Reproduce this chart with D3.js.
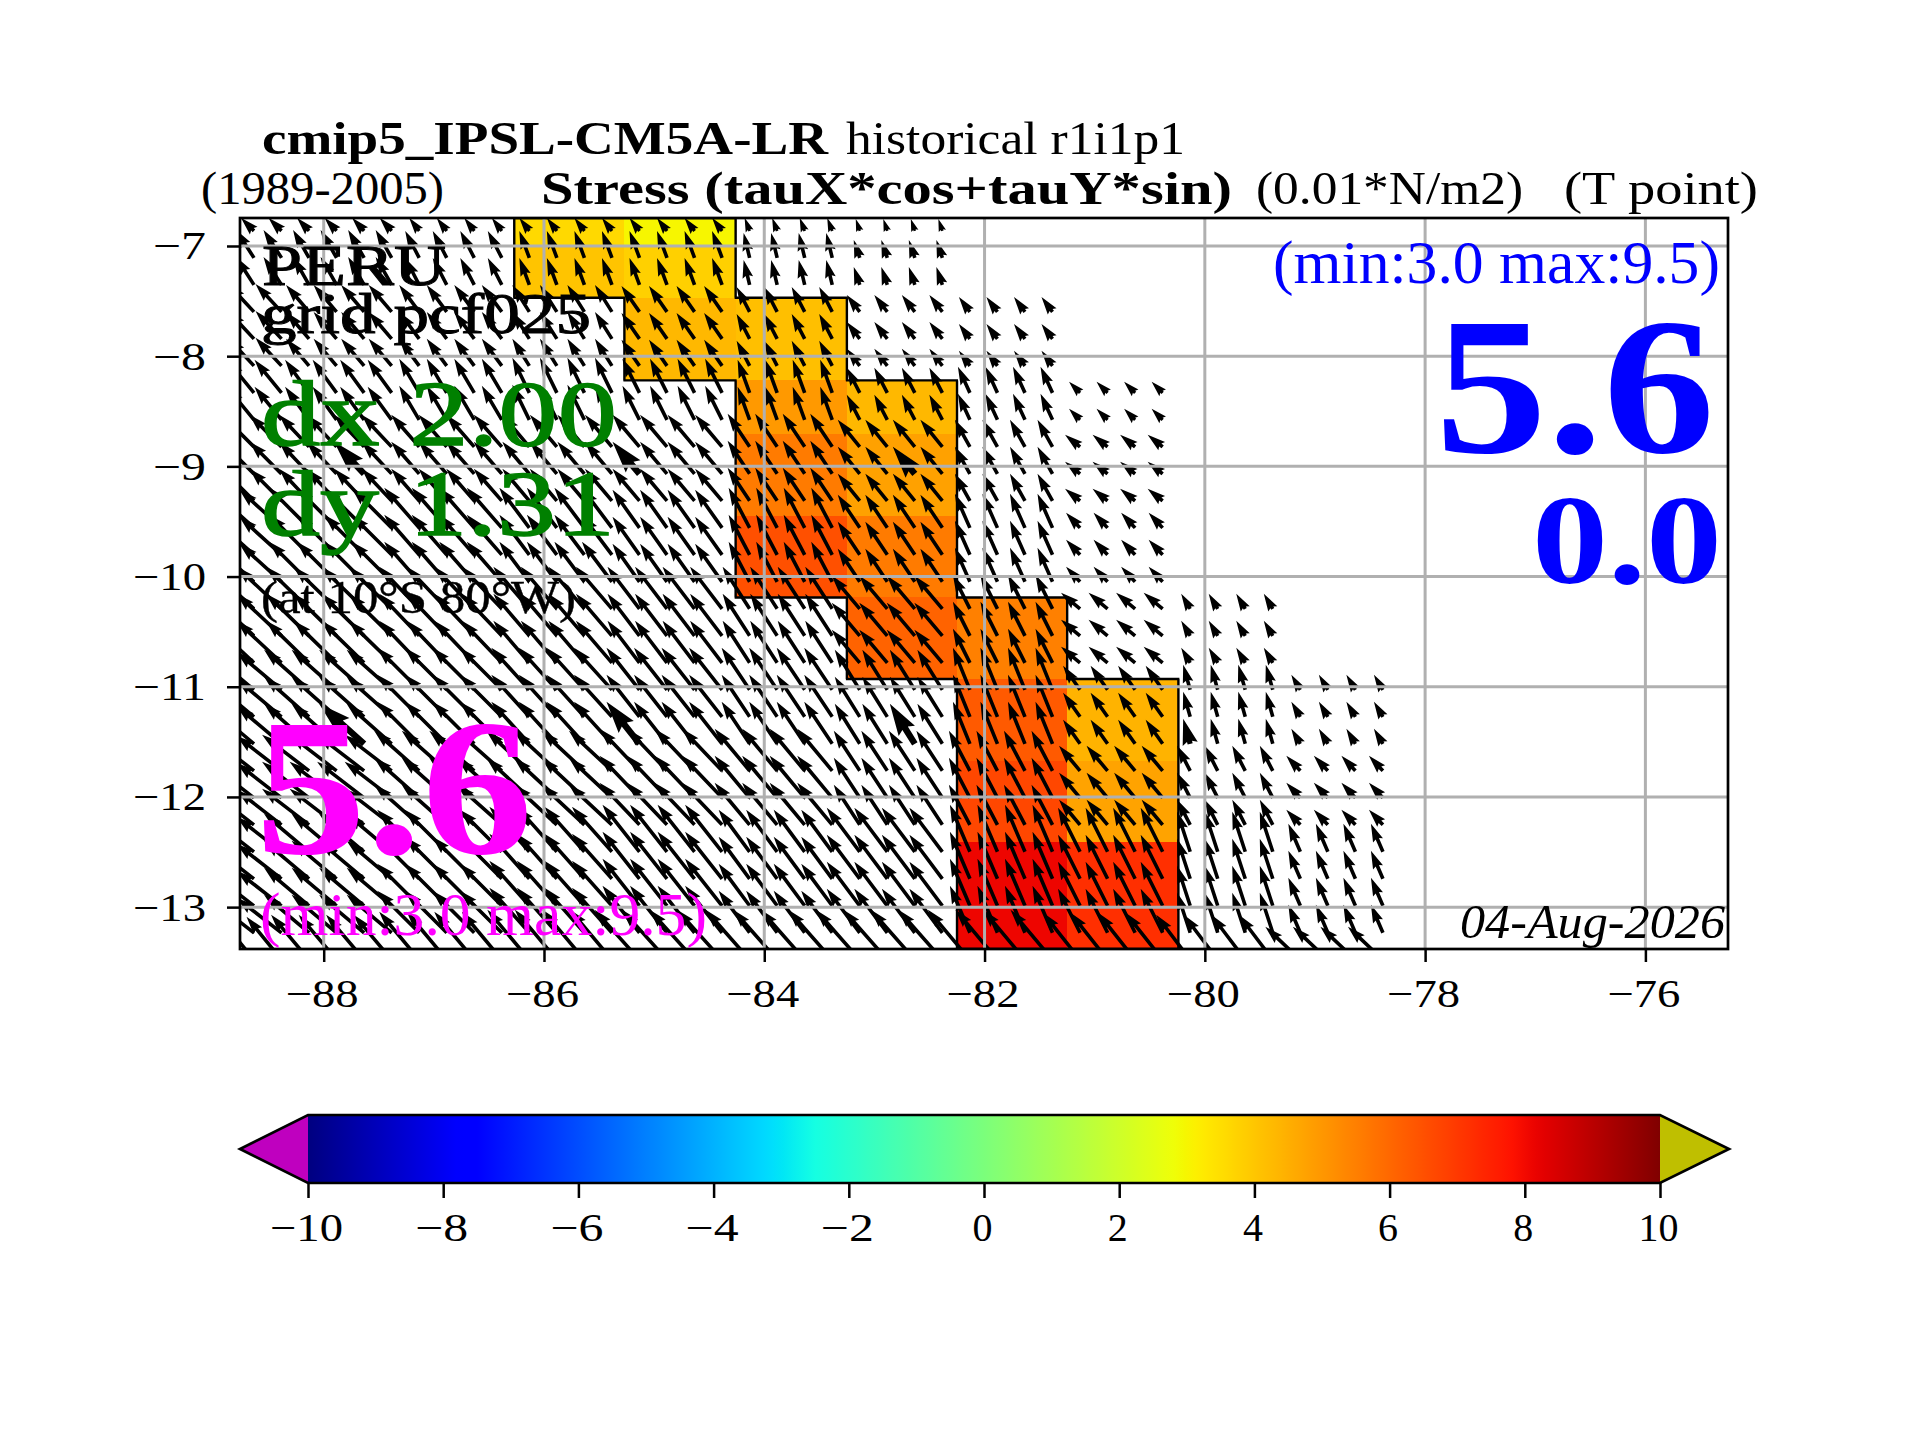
<!DOCTYPE html>
<html>
<head>
<meta charset="utf-8">
<script src="https://cdn.jsdelivr.net/npm/d3@7/dist/d3.min.js"></script>
<style>html,body{margin:0;padding:0;background:#fff}svg{display:block}text{font-family:"Liberation Serif",serif}</style>
</head>
<body>
<svg id="chart" width="1920" height="1440"></svg>
<script>
// ---------- data ----------
const lonTicks = [-88,-86,-84,-82,-80,-78,-76];
const latTicks = [-7,-8,-9,-10,-11,-12,-13];
const cbarTicks = [-10,-8,-6,-4,-2,0,2,4,6,8,10];
// column edges in longitude, east to west
const colEast = [-78.25,-79.25,-80.24,-81.25,-82.25,-83.25,-84.26,-85.27,-86.27,-87.27,-88.27,-89.27];
// band edges in latitude, north to south
const bandEdges = [-6.746,-7.0,-7.47,-8.22,-8.71,-9.45,-10.19,-10.93,-11.67,-12.41,-13.38];
// stress magnitude per band (rows) and column (east to west); null = masked
const n = null;
const stress = [
 [n,n,n,n,n,n,3.0,3.6,n,n,n],
 [n,n,n,n,n,n,3.8,4.05,n,n,n],
 [n,n,n,n,n,4.15,4.3,n,n,n,n],
 [n,n,n,n,4.3,4.95,n,n,n,n,n],
 [n,n,n,n,4.8,5.6,n,n,n,n,n],
 [n,n,n,n,5.6,6.5,n,n,n,n,n],
 [n,n,n,5.5,6.1,n,n,n,n,n,n],
 [n,n,4.4,6.3,n,n,n,n,n,n,n],
 [n,n,4.75,6.7,n,n,n,n,n,n,n],
 [n,n,7.2,8.1,n,n,n,n,n,n,n]
];
// arrow row indices belonging to each band (the last group lies under the frame)
const arrowRows = [[26],[25,24],[23,22,21],[20,19],[18,17,16],[15,14,13],[12,11,10],[9,8,7],[6,5,4],[3,2,1,0],[-1]];
// vector components (0.001 N/m2) per band and column
const tauU = [
 [n,n,n,n,-4,-5,-10,-10,-10,-12,-13],
 [n,n,n,n,-6,-6,-10,-10,-14,-16,-18],
 [n,n,n,-11,-13,-13,-18,-17,-20,-23,-26],
 [n,n,-11,-12,-13,-12,-17,-17,-20,-24,-27],
 [n,n,-15,-15,-22,-22,-27,-27,-28,-30,-32],
 [n,n,-14,-15,-22,-21,-27,-30,-35,-40,-42],
 [n,-9,-19,-17,-28,-27,-32,-36,-40,-43,-45],
 [-9,-7,-17,-17,-25,-28,-33,-38,-42,-45,-45],
 [-14,-13,-21,-21,-26,-35,-40,-43,-45,-47,-45],
 [-12,-13,-22,-20,-33,-31,-37,-40,-42,-45,-45],
 [-35,-34,-37,-42,-44,-44,-45,-42,-40,-38,-35]
];
const tauV = [
 [n,n,n,n,12,13,13,13,13,13,13],
 [n,n,n,n,18,25,27,27,27,28,28],
 [n,n,n,15,17,25,26,27,27,27,28],
 [n,n,11,26,25,33,34,35,34,33,33],
 [n,n,12,27,27,33,32,32,32,32,32],
 [n,n,15,34,33,40,38,40,40,40,38],
 [n,15,16,34,33,42,42,42,42,42,42],
 [15,25,24,42,40,42,42,42,42,40,38],
 [15,25,25,40,40,42,42,40,40,36,35],
 [28,40,44,47,44,42,47,45,42,38,35],
 [33,45,47,50,50,50,50,50,48,45,43]
];
// grid columns and rows where the heavier arrows appear
const heavyCols = [7,17,27,37];
const heavyRows = [7,17];

// ---------- scales ----------
const F = {l:240,r:1728,t:218,b:949};
const x = d3.scaleLinear().domain([-88.76,-75.25]).range([F.l,F.r]);
const y = d3.scaleLinear().domain([-6.746,-13.38]).range([F.t,F.b]);
const quiver = d3.scaleLinear().domain([0,100]).range([0,100]);
const chan = (dom,rng)=>d3.scaleLinear().domain(dom).range(rng).clamp(true);
const jR = chan([0,.35,.66,.89,1],[0,0,1,1,.5]);
const jG = chan([0,.125,.375,.64,.91,1],[0,0,1,1,0,0]);
const jB = chan([0,.11,.34,.65,1],[.5,1,1,0,0]);
const norm = d3.scaleLinear().domain([-10,10]).range([0,1]);
const jet = v=>{const t=norm(v);return d3.rgb(jR(t)*255,jG(t)*255,jB(t)*255).formatHex();};

const svg = d3.select('#chart');
svg.append('rect').attr('width',1920).attr('height',1440).attr('fill','#fff');
svg.append('defs').append('clipPath').attr('id','frame').append('rect')
  .attr('x',F.l).attr('y',F.t).attr('width',F.r-F.l).attr('height',F.b-F.t);
const plot = svg.append('g').attr('clip-path','url(#frame)');

// ---------- cells ----------
const cells = [];
stress.forEach((row,g)=>row.forEach((v,c)=>{ if(v!==null) cells.push({g,c,v}); }));
plot.append('g').attr('shape-rendering','crispEdges').selectAll('rect').data(cells).join('rect')
  .attr('x',d=>x(colEast[d.c+1])).attr('y',d=>y(bandEdges[d.g]))
  .attr('width',d=>x(colEast[d.c])-x(colEast[d.c+1]))
  .attr('height',d=>y(bandEdges[d.g+1])-y(bandEdges[d.g]))
  .attr('fill',d=>jet(d.v));
// outline of the coloured region
const has=(g,c)=>g>=0&&g<stress.length&&c>=0&&c<11&&stress[g][c]!==null;
const outline=d3.path();
cells.forEach(d=>{
  const x0=x(colEast[d.c+1]),x1=x(colEast[d.c]),y0=y(bandEdges[d.g]),y1=y(bandEdges[d.g+1]);
  if(!has(d.g-1,d.c)){outline.moveTo(x0-1,y0);outline.lineTo(x1+1,y0);}
  if(!has(d.g+1,d.c)){outline.moveTo(x0-1,y1);outline.lineTo(x1+1,y1);}
  if(!has(d.g,d.c-1)){outline.moveTo(x1,y0);outline.lineTo(x1,y1);}
  if(!has(d.g,d.c+1)){outline.moveTo(x0,y0);outline.lineTo(x0,y1);}
});
plot.append('path').attr('d',outline.toString()).attr('fill','none').attr('stroke','#000').attr('stroke-width',2.4);

// ---------- arrows ----------
const lonStep=.25, latStep=.245, lon0=-78.383, lat0=-13.233;
const arrows=[];
arrowRows.forEach((rows,g)=>rows.forEach(m=>{
  tauU[g].forEach((u,c)=>{
    if(u===null) return;
    for(let k=4*c;k<4*c+4&&k<42;k++){
      arrows.push({lon:lon0-k*lonStep,lat:lat0+m*latStep,u,v:tauV[g][c],
        heavy:heavyCols.includes(k)&&heavyRows.includes(m)});
    }
  });
}));
function arrowPath(d){
  const w=d.heavy?6.4:3.6;
  const dx=quiver(d.u),dy=-quiver(d.v),L=Math.hypot(dx,dy);
  const s=Math.min(1,L/(5*w)),W=w*s;
  const ca=dx/L,sa=dy/L,X=x(d.lon),Y=y(d.lat);
  const pts=[[0,W/2],[L-4.5*W,W/2],[L-5*W,1.5*W],[L,0],[L-5*W,-1.5*W],[L-4.5*W,-W/2],[0,-W/2]];
  const p=d3.path();
  pts.forEach((q,i)=>{
    const px=X+q[0]*ca-q[1]*sa,py=Y+q[0]*sa+q[1]*ca;
    if(i)p.lineTo(px,py);else p.moveTo(px,py);
  });
  p.closePath();return p.toString();
}
plot.append('g').selectAll('path').data(arrows).join('path').attr('d',arrowPath).attr('fill','#000');

// ---------- grid ----------
const grid=plot.append('g').attr('stroke','#b0b0b0').attr('stroke-width',3);
grid.selectAll('line.v').data(lonTicks).join('line').attr('class','v')
  .attr('x1',d=>x(d)).attr('x2',d=>x(d)).attr('y1',F.t).attr('y2',F.b);
grid.selectAll('line.h').data(latTicks).join('line').attr('class','h')
  .attr('y1',d=>y(d)).attr('y2',d=>y(d)).attr('x1',F.l).attr('x2',F.r);

// ---------- frame and axes ----------
svg.append('rect').attr('x',F.l).attr('y',F.t).attr('width',F.r-F.l).attr('height',F.b-F.t)
  .attr('fill','none').attr('stroke','#000').attr('stroke-width',2.7);
const fmt=d=>(d<0?'\u2212':'')+Math.abs(d);
const lenOf=d=>(d<0?33:0)+20*String(Math.abs(d)).length;
function styleAxis(g,pos){
  g.select('.domain').remove();
  g.selectAll('.tick line').attr('stroke','#000').attr('stroke-width',2.5);
  g.selectAll('.tick text').attr('font-family','Liberation Serif').attr('font-size',39).attr('fill','#000')
    .attr('textLength',d=>lenOf(d)).attr('lengthAdjust','spacingAndGlyphs');
  if(pos==='b') g.selectAll('.tick text').attr('y',58).attr('dy',0).attr('x',-2);
  else g.selectAll('.tick text').attr('x',-34).attr('dy',13);
}
svg.append('g').attr('transform',`translate(0,${F.b})`)
  .call(d3.axisBottom(x).tickValues(lonTicks).tickFormat(fmt).tickSize(13)).call(g=>styleAxis(g,'b'));
svg.append('g').attr('transform',`translate(${F.l},0)`)
  .call(d3.axisLeft(y).tickValues(latTicks).tickFormat(fmt).tickSize(13)).call(g=>styleAxis(g,'l'));

// ---------- text ----------
function label(t,x0,base,len,size,o={}){
  const el=svg.append('text').text(t).attr('x',x0).attr('y',base).attr('font-size',size)
    .attr('font-weight',o.w||'normal').attr('font-style',o.s||'normal').attr('fill',o.f||'#000')
    .attr('textLength',len).attr('lengthAdjust','spacingAndGlyphs').attr('xml:space','preserve');
  if(o.st) el.attr('stroke',o.f||'#000').attr('stroke-width',o.st);
}
label('cmip5_IPSL-CM5A-LR',262,154,566,47,{w:'bold'});
label('historical r1i1p1',846,154,339,46);
label('(1989-2005)',201,204,243,46);
label('Stress (tauX*cos+tauY*sin)',541,204,691,47,{w:'bold'});
label('(0.01*N/m2)',1256,204,267,46);
label('(T point)',1564,204,194,46);
label('PERU',262,285,184,58,{st:1});
label('grid pcf025',261,333,330,58,{st:1});
label('dx 2.00',261,445,356,93,{f:'#008000',st:1.4});
label('dy 1.31',261,535,354,93,{f:'#008000',st:1.4});
label('(at 10\u00b0S 80\u00b0W)',261,613,315,47,{st:.4});
label('5.6',255,853,278,195,{w:'bold',f:'#ff00ff'});
label('(min:3.0 max:9.5)',260,935,447,62,{f:'#ff00ff'});
label('(min:3.0 max:9.5)',1273,283,447,62,{f:'#0000ff'});
label('5.6',1435,452,280,195,{w:'bold',f:'#0000ff'});
label('0.0',1532,583,190,126,{w:'bold',f:'#0000ff'});
label('04-Aug-2026',1460,938,265,49,{s:'italic'});

// ---------- colour bar ----------
const B={l:308,r:1660,t:1115,b:1183,tipL:240,tipR:1729};
const cb=d3.scaleLinear().domain([-10,10]).range([B.l,B.r]);
const grad=svg.select('defs').append('linearGradient').attr('id','jet');
d3.range(0,1.0001,1/128).forEach(t=>grad.append('stop').attr('offset',t).attr('stop-color',jet(norm.invert(t))));
const mid=(B.t+B.b)/2;
svg.append('path').attr('d',d3.line()([[B.l,B.t],[B.tipL,mid],[B.l,B.b]])+'Z').attr('fill','#bf00bf');
svg.append('path').attr('d',d3.line()([[B.r,B.t],[B.tipR,mid],[B.r,B.b]])+'Z').attr('fill','#bfbf00');
svg.append('rect').attr('x',B.l).attr('y',B.t).attr('width',B.r-B.l).attr('height',B.b-B.t).attr('fill','url(#jet)');
svg.append('path').attr('d',d3.line()([[B.l,B.t],[B.r,B.t],[B.tipR,mid],[B.r,B.b],[B.l,B.b],[B.tipL,mid]])+'Z')
  .attr('fill','none').attr('stroke','#000').attr('stroke-width',2.7);
svg.append('g').attr('transform',`translate(0,${B.b})`)
  .call(d3.axisBottom(cb).tickValues(cbarTicks).tickFormat(fmt).tickSize(15)).call(g=>styleAxis(g,'b'));
</script>
</body>
</html>
